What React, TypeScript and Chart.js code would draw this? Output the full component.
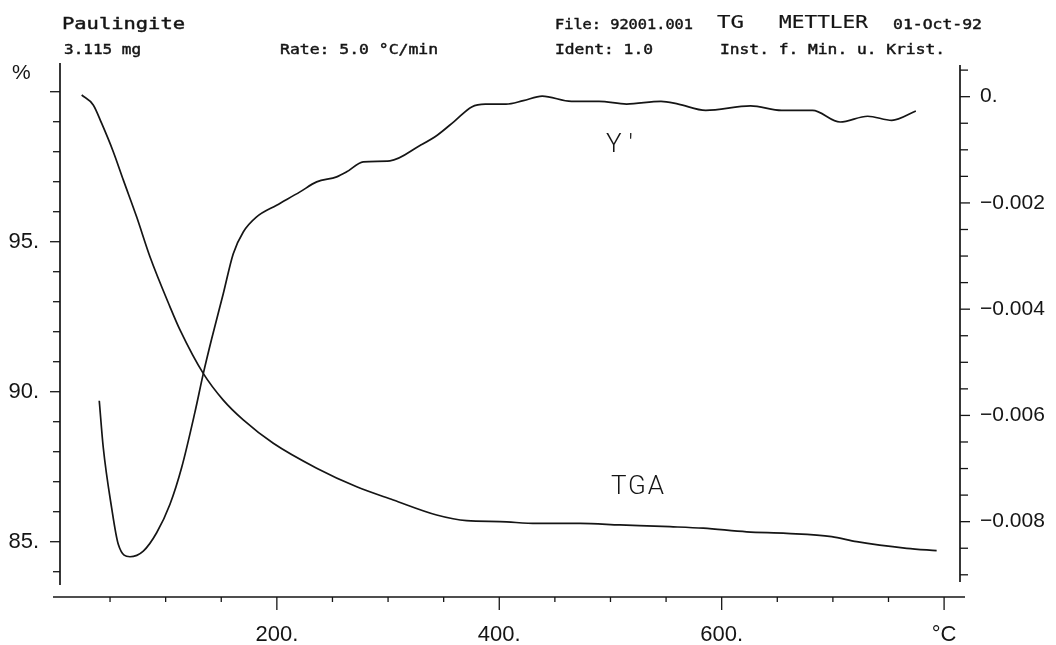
import React, { useEffect, useRef } from 'react';
import { Chart, registerables } from 'chart.js';

Chart.register(...registerables);

// ---- Data ----
const tgaTemp = [24.5, 34.9, 42.4, 52.9, 61.9, 73.9, 85.9, 103.9, 112.9, 133.8, 151.8, 169.8, 196.8, 235.8, 271.8, 304.7, 343.7, 370.7, 400.6, 433.6, 472.6, 508.5, 553.5, 583.5, 622.5, 658.5, 698.9, 721.4, 766.4, 793.3];
const tgaPercent = [99.89, 99.56, 98.95, 98.0, 97.06, 95.83, 94.5, 92.83, 92.06, 90.61, 89.72, 89.06, 88.28, 87.45, 86.83, 86.39, 85.89, 85.7, 85.67, 85.61, 85.61, 85.56, 85.5, 85.45, 85.33, 85.28, 85.17, 85.0, 84.78, 84.7];

const dtgTemp = [40.3, 43.9, 51.4, 57.4, 67.9, 79.9, 91.9, 103.9, 114.4, 126.3, 133.8, 141.4, 151.8, 160.8, 169.8, 181.8, 199.8, 220.8, 235.8, 253.8, 262.8, 277.7, 301.7, 328.7, 344.2, 359.6, 375.2, 387.5, 406.1, 421.6, 438.6, 464.9, 489.7, 514.5, 545.4, 561.0, 585.7, 626.0, 653.9, 681.7, 706.5, 731.3, 753.0, 774.6];
const dtgValue = [-0.005723, -0.006604, -0.007736, -0.008426, -0.00866, -0.008553, -0.008208, -0.007672, -0.006981, -0.005943, -0.005219, -0.004558, -0.003709, -0.002955, -0.002547, -0.002264, -0.002043, -0.001792, -0.001604, -0.001509, -0.001415, -0.001226, -0.001208, -0.000919, -0.000725, -0.000464, -0.000192, -0.00014, -0.00014, -0.000075, 0.000009, -0.000087, -0.000087, -0.00014, -0.000087, -0.00014, -0.000257, -0.000172, -0.000257, -0.000257, -0.000477, -0.000368, -0.000445, -0.00027];

// ---- Axes / ticks ----
const xMin = 5;
const xMax = 814.3;
const leftMin = 83.157;
const leftMax = 100.957;
const rightMin = -0.009418;
const rightMax = 0.000634;

const xTickValues = [50, 100, 150, 200, 250, 300, 350, 400, 450, 500, 550, 600, 650, 700, 750, 800];
const xLabelValues = [200, 400, 600, 800];
const xTickLabels = ['200.', '400.', '600.', '°C'];

const leftTickValues = [84, 85, 86, 87, 88, 89, 90, 91, 92, 93, 94, 95, 96, 97, 98, 99, 100];
const leftLabelValues = [85, 90, 95];
const leftTickLabels = ['85.', '90.', '95.'];
const leftMajorValues = [85, 90, 95, 100];

const rightTickValues = [0.0005, 0, -0.0005, -0.001, -0.0015, -0.002, -0.0025, -0.003, -0.0035, -0.004, -0.0045, -0.005, -0.0055, -0.006, -0.0065, -0.007, -0.0075, -0.008, -0.0085, -0.009];
const rightLabelValues = [0, -0.002, -0.004, -0.006, -0.008];
const rightTickLabels = ['0.', '\u22120.002', '\u22120.004', '\u22120.006', '\u22120.008'];

const headerTexts = ['Paulingite', '3.115 mg', 'Rate: 5.0 °C/min', 'File: 92001.001', 'TG', 'METTLER', '01-Oct-92', 'Ident: 1.0', 'Inst. f. Min. u. Krist.'];
const curveLabels = ["Y '", 'TGA'];
const leftUnit = '%';

const near = (a: number, b: number) => Math.abs(a - b) < 1e-9;
const labelFor = (values: number[], labels: string[], v: number) => {
  const i = values.findIndex((u) => near(u, v));
  return i >= 0 ? labels[i] : '';
};

const INK = '#151515';
const SANS = "'Liberation Sans', Arial, sans-serif";
const MONO = "'DejaVu Sans Mono', monospace";

// draws text stretched horizontally to a given width (plotter-like lettering)
function stretchText(ctx: any, text: string, x: number, y: number, width: number, font: string, embolden = 0) {
  ctx.save();
  ctx.font = font;
  const w = ctx.measureText(text).width;
  ctx.translate(x, y);
  ctx.scale(width / w, 1);
  ctx.fillText(text, 0, 0);
  if (embolden > 0) {
    ctx.lineWidth = embolden;
    ctx.strokeStyle = ctx.fillStyle;
    ctx.strokeText(text, 0, 0);
  }
  ctx.restore();
}

function spacedText(ctx: any, text: string, x: number, y: number, width: number, font: string) {
  ctx.font = font;
  ctx.letterSpacing = '0px';
  const w = ctx.measureText(text).width;
  const n = Array.from(text).length;
  const s = n > 1 ? (width - w) / (n - 1) : 0;
  ctx.letterSpacing = s + 'px';
  ctx.fillText(text, x, y);
  ctx.letterSpacing = '0px';
}

const plotterPlugin = {
  id: 'plotterAxes',
  afterDraw(chart: any) {
    const { ctx, chartArea: a, scales } = chart;
    const xs = scales.x;
    const yl = scales.y;
    const yr = scales.y2;
    ctx.save();
    ctx.strokeStyle = INK;
    const seg = (x1: number, y1: number, x2: number, y2: number) => {
      ctx.beginPath();
      ctx.moveTo(x1, y1);
      ctx.lineTo(x2, y2);
      ctx.stroke();
    };
    // axis lines
    ctx.lineWidth = 1.7;
    seg(a.left, a.top, a.left, a.bottom - 12);
    seg(a.right, a.top + 2, a.right, a.bottom - 15);
    seg(a.left - 7, a.bottom, a.right + 5, a.bottom);
    // ticks
    ctx.lineWidth = 1.3;
    leftTickValues.forEach((v) => {
      const py = yl.getPixelForValue(v);
      const len = leftMajorValues.some((u) => near(u, v)) ? 10 : 7;
      seg(a.left - len, py, a.left, py);
    });
    rightTickValues.forEach((v) => {
      const py = yr.getPixelForValue(v);
      const len = rightLabelValues.some((u) => near(u, v)) ? 10 : 8;
      seg(a.right, py, a.right + len, py);
    });
    xTickValues.forEach((v) => {
      const px = xs.getPixelForValue(v);
      const len = xLabelValues.some((u) => near(u, v)) ? 13 : 5;
      seg(px, a.bottom, px, a.bottom + len);
    });

    // texts
    ctx.fillStyle = INK;
    ctx.textBaseline = 'alphabetic';
    ctx.textAlign = 'left';
    const em = 0.45;
    stretchText(ctx, headerTexts[0], 62, 29, 123, `16px ${MONO}`, em);
    stretchText(ctx, headerTexts[1], 64, 54, 77, `14px ${MONO}`, em);
    stretchText(ctx, headerTexts[2], 280, 54, 158, `14px ${MONO}`, em);
    stretchText(ctx, headerTexts[3], 555, 29, 138, `14px ${MONO}`, em);
    stretchText(ctx, headerTexts[4], 717, 28, 27, `18px ${MONO}`, 0.2);
    stretchText(ctx, headerTexts[5], 779, 28, 89, `17px ${MONO}`, 0.2);
    stretchText(ctx, headerTexts[6], 893, 29, 89, `14px ${MONO}`, em);
    stretchText(ctx, headerTexts[7], 555, 54, 98, `14px ${MONO}`, em);
    stretchText(ctx, headerTexts[8], 720, 54, 225, `14px ${MONO}`, em);

    spacedText(ctx, leftUnit, 12, 79, 20, `21px ${SANS}`);
    spacedText(ctx, curveLabels[0], 606, 152, 27, `300 26px Roboto, ${SANS}`);
    spacedText(ctx, curveLabels[1], 611, 494, 53, `300 26px Roboto, ${SANS}`);
    ctx.restore();
  },
};

export default function App() {
  const canvasRef = useRef<HTMLCanvasElement | null>(null);

  useEffect(() => {
    document.body.style.margin = '0';
    document.body.style.background = '#ffffff';
    const canvas = canvasRef.current;
    if (!canvas) return;

    const chart = new Chart(canvas, {
      type: 'line',
      data: {
        datasets: [
          {
            label: 'TGA',
            data: tgaTemp.map((t, i) => ({ x: t, y: tgaPercent[i] })),
            yAxisID: 'y',
            borderColor: INK,
            borderWidth: 1.7,
            pointRadius: 0,
            fill: false,
            cubicInterpolationMode: 'monotone',
          },
          {
            label: "Y'",
            data: dtgTemp.map((t, i) => ({ x: t, y: dtgValue[i] })),
            yAxisID: 'y2',
            borderColor: INK,
            borderWidth: 1.7,
            pointRadius: 0,
            fill: false,
            cubicInterpolationMode: 'monotone',
          },
        ],
      },
      options: {
        responsive: false,
        animation: false,
        devicePixelRatio: 1,
        layout: { padding: { top: 63, left: 0, right: 0, bottom: 0 } },
        plugins: {
          legend: { display: false },
          tooltip: { enabled: false },
          title: { display: false },
        },
        scales: {
          x: {
            type: 'linear',
            position: 'bottom',
            min: xMin,
            max: xMax,
            border: { display: false },
            grid: { display: false, drawTicks: false },
            afterBuildTicks: (s: any) => {
              s.ticks = xTickValues.map((v) => ({ value: v }));
            },
            afterFit: (s: any) => {
              s.height = 48;
            },
            ticks: {
              autoSkip: false,
              maxRotation: 0,
              padding: 25,
              color: INK,
              font: { family: SANS, size: 22 },
              callback: (v: any) => labelFor(xLabelValues, xTickLabels, Number(v)),
            },
          },
          y: {
            type: 'linear',
            position: 'left',
            min: leftMin,
            max: leftMax,
            border: { display: false },
            grid: { display: false, drawTicks: false },
            afterBuildTicks: (s: any) => {
              s.ticks = leftTickValues.map((v) => ({ value: v }));
            },
            afterFit: (s: any) => {
              s.width = 60;
            },
            ticks: {
              autoSkip: false,
              padding: 21,
              color: INK,
              font: { family: SANS, size: 22 },
              callback: (v: any) => labelFor(leftLabelValues, leftTickLabels, Number(v)),
            },
          },
          y2: {
            type: 'linear',
            position: 'right',
            min: rightMin,
            max: rightMax,
            border: { display: false },
            grid: { display: false, drawTicks: false },
            afterBuildTicks: (s: any) => {
              s.ticks = rightTickValues.map((v) => ({ value: v }));
            },
            afterFit: (s: any) => {
              s.width = 96;
            },
            ticks: {
              autoSkip: false,
              padding: 20,
              color: INK,
              font: { family: SANS, size: 21 },
              callback: (v: any) => labelFor(rightLabelValues, rightTickLabels, Number(v)),
            },
          },
        },
      },
      plugins: [plotterPlugin],
    } as any);

    return () => {
      chart.destroy();
    };
  }, []);

  return (
    <div style={{ position: 'absolute', left: 0, top: 0, width: 1056, height: 645, background: '#fff' }}>
      <canvas ref={canvasRef} width={1056} height={645} style={{ display: 'block', width: 1056, height: 645 }} />
    </div>
  );
}
